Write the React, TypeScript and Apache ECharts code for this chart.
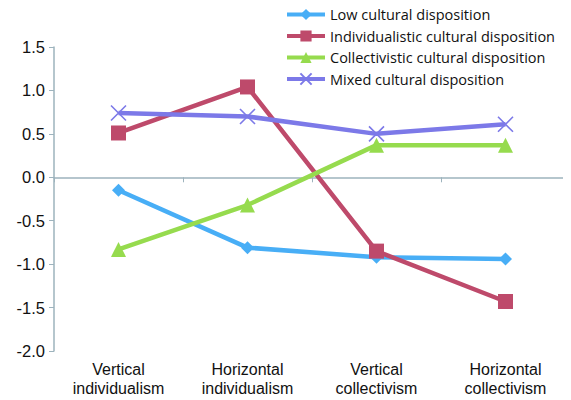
import React, { useEffect, useRef } from "react";
import * as echarts from "echarts";

const categories = ["Vertical\nindividualism", "Horizontal\nindividualism", "Vertical\ncollectivism", "Horizontal\ncollectivism"];
const seriesNames = [
  "Low cultural disposition",
  "Individualistic cultural disposition",
  "Collectivistic cultural disposition",
  "Mixed cultural disposition",
];
const lowValues = [-0.15, -0.81, -0.92, -0.94];
const individualisticValues = [0.51, 1.04, -0.85, -1.43];
const collectivisticValues = [-0.83, -0.32, 0.37, 0.37];
const mixedValues = [0.74, 0.7, 0.5, 0.61];
const yTicks = { min: -2, max: 1.5, interval: 0.5 };

const colors = ["#48AEF6", "#BE4A6B", "#96DB4E", "#7C79E8"];

export default function App() {
  const ref = useRef<HTMLDivElement>(null);
  useEffect(() => {
    const chart = echarts.init(ref.current!, null, { renderer: "svg" });
    const values = [lowValues, individualisticValues, collectivisticValues, mixedValues];
    const symbols = ["diamond", "rect", "triangle", "path://M0,0L10,10M10,0L0,10"];
    const sizes = [13, 15, 15, 15];
    chart.setOption({
      animation: false,
      color: colors,
      grid: { left: 54, right: 1, top: 47, bottom: 49 },
      legend: {
        orient: "vertical",
        left: 280,
        top: 2,
        itemWidth: 38,
        itemHeight: 14,
        itemGap: 6.5,
        lineStyle: { width: 4 },
        textStyle: { fontFamily: "Open Sans", fontSize: 14.5, color: "#111" },
        data: seriesNames,
      },
      xAxis: {
        type: "category",
        data: categories,
        axisLine: { lineStyle: { color: "#9DB3BD", width: 1.5 } },
        axisTick: { show: true, length: 5, lineStyle: { color: "#9DB3BD" } },
        axisLabel: {
          fontFamily: "Liberation Sans",
          fontSize: 16,
          color: "#111",
          lineHeight: 19,
          margin: 9,
          interval: 0,
        },
      },
      yAxis: {
        type: "value",
        min: yTicks.min,
        max: yTicks.max,
        interval: yTicks.interval,
        axisLine: { show: true, lineStyle: { color: "#9DB3BD", width: 1.5 } },
        axisTick: { show: true, length: 5, lineStyle: { color: "#9DB3BD" } },
        splitLine: { show: false },
        axisLabel: {
          fontFamily: "Liberation Sans",
          fontSize: 16.5,
          color: "#111",
          margin: 9,
          formatter: (v: number) => v.toFixed(1),
        },
      },
      series: seriesNames.map((name, i) => ({
        name,
        type: "line",
        data: values[i],
        symbol: symbols[i],
        symbolSize: sizes[i],
        lineStyle: { width: 4.5, color: colors[i] },
        itemStyle:
          i === 3
            ? { color: "rgba(0,0,0,0)", borderColor: colors[i], borderWidth: 1.6 }
            : { color: colors[i] },
        z: i === 3 ? 4 : 2 + i * 0.1,
      })),
    });
    return () => chart.dispose();
  }, []);
  return <div ref={ref} style={{ width: 571, height: 400, marginLeft: -8, marginTop: -8 }} />;
}
